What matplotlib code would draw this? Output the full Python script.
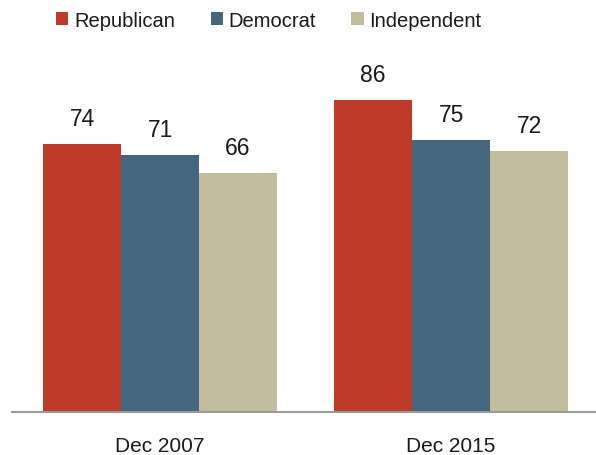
import numpy as np
import matplotlib
matplotlib.use("Agg")
import matplotlib.pyplot as plt
from matplotlib.patches import Patch

plt.rcParams['font.family'] = ['Liberation Sans', 'DejaVu Sans']

# data
groups = ["Dec 2007", "Dec 2015"]
series = ["Republican", "Democrat", "Independent"]
republican = [74, 86]
democrat = [71, 75]
independent = [66, 72]
colors = ["#BF3A27", "#44677F", "#C2BC9D"]

fig = plt.figure(figsize=(5.96, 4.56), dpi=100)
ax = fig.add_axes([12 / 596, 43 / 456, 1 - 12 / 596, 362.5 / 456])

x = np.arange(len(groups))
w = 78 / 291
for i, (vals, c) in enumerate(zip([republican, democrat, independent], colors)):
    pos = x + (i - 1) * w
    ax.bar(pos, vals, width=w, color=c, linewidth=0)
    for p, v in zip(pos, vals):
        ax.annotate(str(v), (p, v), xytext=(0, 10), textcoords="offset points",
                    ha="center", va="bottom", fontsize=16.5, color="#1a1a1a")

ax.set_xlim(-0.509, 1.498)
ax.set_ylim(0, 100)
ax.set_xticks(x)
ax.set_xticklabels(groups, fontsize=15, color="#1a1a1a")
ax.tick_params(axis="x", length=0, pad=17)
ax.set_yticks([])
for s in ["top", "right", "left"]:
    ax.spines[s].set_visible(False)
ax.spines["bottom"].set_color("#9A9A9A")
ax.spines["bottom"].set_linewidth(1.5)

handles = [Patch(facecolor=c, edgecolor="none") for c in colors]
fig.legend(handles, series, loc="upper center", bbox_to_anchor=(269 / 596, 1.014), ncol=3,
           frameon=False, fontsize=14.5, handlelength=0.6, handleheight=0.6,
           handletextpad=0.3, columnspacing=1.75, labelcolor="#1a1a1a")

fig.savefig("out.png", dpi=100)
